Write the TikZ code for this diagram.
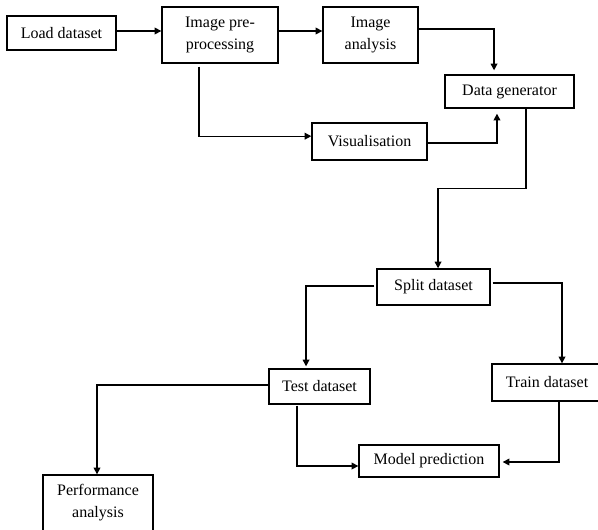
\documentclass[tikz,border=0pt]{standalone}
\usepackage{fontspec}
\setmainfont{Liberation Serif}
\usetikzlibrary{arrows.meta}
\tikzset{
  box/.style={draw, line width=1pt, inner sep=0pt, align=center,
    font=\fontsize{12}{16.5}\selectfont},
  arr/.style={draw, line width=1pt, -{Triangle[length=5pt,width=5pt]}},
}
\begin{document}
\begin{tikzpicture}[x=0.75pt, y=-0.75pt]
\clip (0,0) rectangle (598,529);
\fill[white] (0,0) rectangle (598,529);
\node[box, minimum width=81.75pt, minimum height=25.5pt] (load) at (61.5,33) {Load dataset};
\node[box, minimum width=87pt, minimum height=42pt] (pre) at (220,35) {Image pre-\\processing};
\node[box, minimum width=71.25pt, minimum height=42pt] (ana) at (370.5,35) {Image\\analysis};
\node[box, minimum width=96.75pt, minimum height=24.75pt] (dg) at (509.5,91.5) {Data generator};
\node[box, minimum width=86.25pt, minimum height=27.75pt] (vis) at (369.5,141.5) {Visualisation};
\node[box, minimum width=84.75pt, minimum height=27pt] (split) at (433.5,287) {Split dataset};
\node[box, minimum width=75.75pt, minimum height=26.25pt] (test) at (319.5,386.5) {Test dataset};
\node[box, minimum width=82.5pt, minimum height=27.75pt] (train) at (547,382.5) {Train dataset};
\node[box, minimum width=105pt, minimum height=24pt] (model) at (429,461) {Model prediction};
\node[box, minimum width=82.5pt, minimum height=42pt] (perf) at (98,503) {Performance\\analysis};

\draw[arr] ([yshift=1.5pt]load.east) -- ([yshift=1.5pt]load.east -| pre.west);
\draw[arr] ([yshift=3pt]pre.east) -- ([yshift=3pt]pre.east -| ana.west);
\draw[arr] ([yshift=4.5pt]ana.east) -| ([xshift=-11.6pt,yshift=3pt]dg.north);
\draw[arr] ([xshift=-15.75pt,yshift=-2.25pt]pre.south) |- ([yshift=4pt]vis.west);
\draw[arr] ([yshift=-1.1pt]vis.east) -| ([xshift=-9.4pt,yshift=-3.75pt]dg.south);
\draw[arr] ([xshift=12.4pt]dg.south) -- ++(0,80) -| ([xshift=3.4pt]split.north);
\draw[arr] ([xshift=-1.5pt,yshift=0.75pt]split.west) -| ([xshift=-10.1pt,yshift=1.5pt]test.north);
\draw[arr] ([xshift=1.5pt,yshift=3pt]split.east) -| ([xshift=11.25pt]train.north);
\draw[arr] ([yshift=1.1pt]test.west) -| ([xshift=-0.75pt]perf.north);
\draw[arr] ([xshift=-16.9pt,yshift=-0.75pt]test.south) |- ([yshift=-3.75pt]model.west);
\draw[arr] ([xshift=9pt]train.south) |- ([xshift=2.25pt,yshift=-0.75pt]model.east);
\end{tikzpicture}
\end{document}
